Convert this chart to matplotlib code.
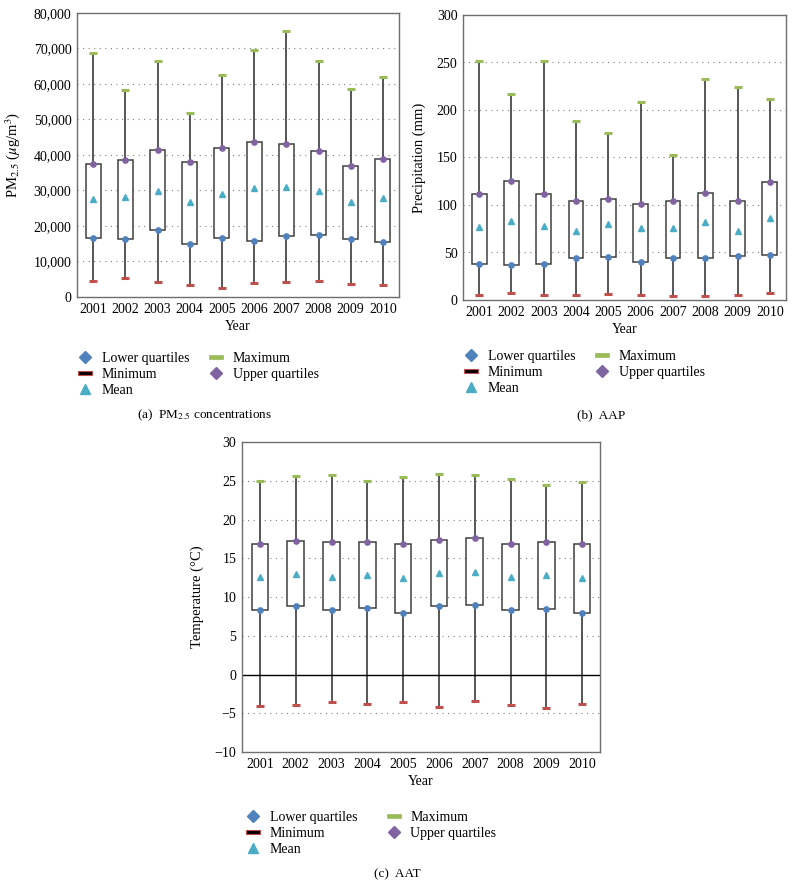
import numpy as np
import matplotlib
matplotlib.use("Agg")
import matplotlib.pyplot as plt
from matplotlib.lines import Line2D
from matplotlib.path import Path

plt.rcParams['font.family'] = ['Liberation Serif', 'DejaVu Serif']
plt.rcParams['mathtext.fontset'] = 'stix'

years = ['2001', '2002', '2003', '2004', '2005', '2006', '2007', '2008', '2009', '2010']

# (a) PM2.5
pm_min = [4400, 5400, 4100, 3300, 2600, 4000, 4100, 4500, 3800, 3300]
pm_q1 = [16500, 16300, 18800, 14900, 16700, 15900, 17200, 17600, 16400, 15500]
pm_mean = [27500, 28100, 29900, 26800, 28900, 30600, 31100, 29900, 26700, 27800]
pm_q3 = [37600, 38500, 41500, 38100, 42100, 43800, 43000, 41200, 37000, 38800]
pm_max = [68700, 58400, 66500, 51800, 62600, 69500, 74800, 66400, 58600, 62100]

# (b) AAP
pr_min = [4.9, 7.0, 5.6, 5.3, 6.3, 4.9, 4.2, 4.6, 4.9, 7.4]
pr_q1 = [37.5, 37.2, 38.2, 43.9, 45.6, 40.4, 44.2, 44.2, 46.0, 47.4]
pr_mean = [77.2, 82.8, 78.2, 72.6, 79.6, 76.1, 75.4, 82.5, 73.0, 86.7]
pr_q3 = [111.8, 125.5, 111.8, 104.4, 105.8, 101.4, 104.2, 112.3, 103.9, 124.4]
pr_max = [251.6, 217.2, 251.6, 188.4, 175.8, 208.1, 152.3, 233.0, 223.9, 211.6]

# (c) AAT
tp_min = [-4.0, -3.9, -3.6, -3.8, -3.6, -4.2, -3.4, -3.9, -4.3, -3.8]
tp_q1 = [8.3, 8.8, 8.3, 8.6, 8.0, 8.8, 9.0, 8.3, 8.4, 8.0]
tp_mean = [12.6, 13.0, 12.6, 12.8, 12.5, 13.1, 13.2, 12.6, 12.8, 12.5]
tp_q3 = [16.9, 17.2, 17.1, 17.1, 16.8, 17.4, 17.6, 16.9, 17.1, 16.8]
tp_max = [25.0, 25.6, 25.7, 25.0, 25.5, 25.9, 25.7, 25.2, 24.4, 24.9]

c_low = '#4f81bd'
c_up = '#8064a2'
c_mean = '#4bacc6'
c_max = '#9bbb59'
c_min = '#c0504d'

W, H = 794, 888
fig = plt.figure(figsize=(W / 100, H / 100), dpi=100)

# flat bar shape for the legend entries
bar_mk = Path([(-1, -0.28), (1, -0.28), (1, 0.28), (-1, 0.28), (-1, -0.28)],
              [Path.MOVETO, Path.LINETO, Path.LINETO, Path.LINETO, Path.CLOSEPOLY])


def px_axes(l, t, r, b):
    return fig.add_axes([l / W, 1 - b / H, (r - l) / W, (b - t) / H])


def draw_box(ax, mn, q1, mean, q3, mx, ylim, yticks, fmt=None):
    x = np.arange(len(years))
    ax.set_xlim(-0.5, len(years) - 0.5)
    ax.set_ylim(*ylim)
    for yt in yticks[1:-1]:
        ax.axhline(yt, color='#7f7f7f', lw=0.8, ls=(0, (1, 4)), zorder=0)
    ax.vlines(x, mn, mx, color='#3a3a3a', lw=1.2, zorder=1)
    q1 = np.array(q1)
    q3 = np.array(q3)
    ax.bar(x, q3 - q1, bottom=q1, width=0.46, facecolor='white',
           edgecolor='#404040', lw=1.1, zorder=2)
    ax.plot(x, mx, ls='none', marker='_', ms=6, mew=2.2, color=c_max, zorder=3)
    ax.plot(x, mn, ls='none', marker='_', ms=6, mew=2.2, color=c_min, zorder=3)
    ax.plot(x, q1, ls='none', marker='o', ms=3.8, color=c_low, zorder=3)
    ax.plot(x, q3, ls='none', marker='o', ms=3.8, color=c_up, zorder=3)
    ax.plot(x, mean, ls='none', marker='^', ms=5, color=c_mean, zorder=3)
    ax.set_xticks(x)
    ax.set_xticklabels(years, fontsize=10)
    ax.set_yticks(yticks)
    if fmt:
        ax.set_yticklabels([fmt(v) for v in yticks])
    ax.tick_params(length=0, labelsize=10, pad=4)
    for s in ax.spines.values():
        s.set_color('#6e6e6e')
        s.set_linewidth(1.0)
    ax.set_xlabel('Year', fontsize=10, labelpad=3)


def add_legend(x0, y0, colsp):
    handles = [
        Line2D([0], [0], ls='none', marker='D', ms=6, color=c_low),
        Line2D([0], [0], ls='none', marker=bar_mk, ms=10, mfc='black',
               mec=c_min, mew=0.8),
        Line2D([0], [0], ls='none', marker='^', ms=7, color=c_mean),
        Line2D([0], [0], ls='none', marker=bar_mk, ms=10, mfc=c_max,
               mec=c_max, mew=0.5),
        Line2D([0], [0], ls='none', marker='D', ms=6, color=c_up),
    ]
    labels = ['Lower quartiles', 'Minimum', 'Mean', 'Maximum', 'Upper quartiles']
    fig.legend(handles, labels, ncol=2, loc='upper left',
               bbox_to_anchor=(x0 / W, 1 - y0 / H), bbox_transform=fig.transFigure,
               frameon=False, fontsize=10, borderpad=0, borderaxespad=0,
               handlelength=1.2, handletextpad=0.6, labelspacing=0.2,
               columnspacing=colsp)


ax1 = px_axes(77, 13, 399, 297)
draw_box(ax1, pm_min, pm_q1, pm_mean, pm_q3, pm_max, (0, 80000),
         list(range(0, 80001, 10000)), fmt=lambda v: '0' if v == 0 else f'{v:,}')
ax1.set_ylabel(r'PM$_{2.5}$ ($\mu$g/m$^3$)', fontsize=10.5, labelpad=8)

ax2 = px_axes(463, 15, 786, 300)
draw_box(ax2, pr_min, pr_q1, pr_mean, pr_q3, pr_max, (0, 300),
         list(range(0, 301, 50)))
ax2.set_ylabel('Precipitation (mm)', fontsize=10.5, labelpad=8)

ax3 = px_axes(242, 442, 600, 752)
draw_box(ax3, tp_min, tp_q1, tp_mean, tp_q3, tp_max, (-10, 30),
         list(range(-10, 31, 5)), fmt=lambda v: f'\u2212{abs(v)}' if v < 0 else f'{v}')
ax3.axhline(0, color='black', lw=1.0, zorder=1.5)
ax3.set_ylabel('Temperature (\u00b0C)', fontsize=10.5, labelpad=8)

add_legend(77, 352, 1.3)
add_legend(463, 350, 1.3)
add_legend(245, 811, 2.0)

fig.text(137 / W, 1 - 415 / H, r'(a)  PM$_{2.5}$ concentrations', fontsize=9.5,
         ha='left', va='center')
fig.text(577 / W, 1 - 415 / H, '(b)  AAP', fontsize=9.5, ha='left', va='center')
fig.text(397 / W, 1 - 874 / H, '(c)  AAT', fontsize=9.5, ha='center', va='center')

fig.savefig('out.png', dpi=100)
